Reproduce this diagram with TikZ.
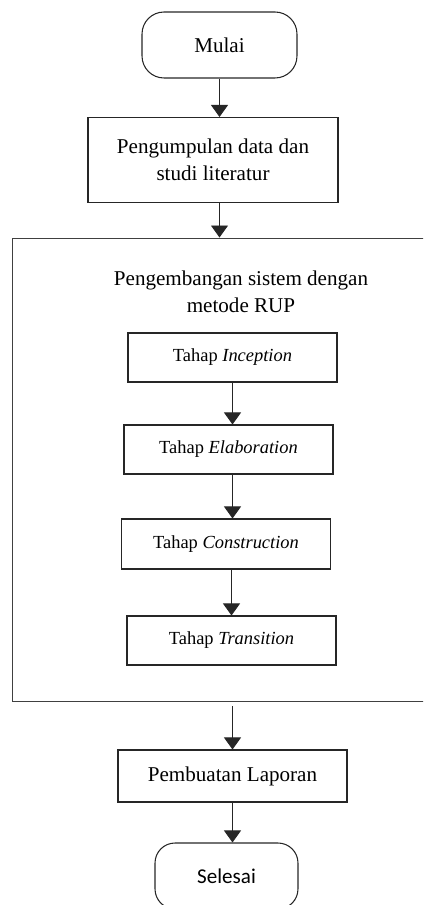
\documentclass[tikz,border=0pt]{standalone}
\usepackage{fontspec}
\setmainfont{Liberation Serif}
\newfontfamily\calibrifont{Carlito}
\usetikzlibrary{shapes,arrows.meta,positioning,calc}

\begin{document}
\begin{tikzpicture}[x=0.02cm,y=-0.02cm,
    line width=0.6pt,
    terminal/.style={draw=black!85,rectangle,rounded corners=0.44cm,minimum width=#1,minimum height=1.32cm,inner sep=0pt},
    box/.style={draw=black!85,rectangle,minimum width=#1,minimum height=1.7cm,inner sep=0pt,align=center,font=\fontsize{12}{15.6}\selectfont},
    tahap/.style={draw=black!85,rectangle,minimum width=4.18cm,minimum height=0.98cm,inner sep=0pt,font=\fontsize{10.5}{12.6}\selectfont},
    flow/.style={draw=black!85,line width=0.5pt,-{Triangle[width=0.34cm,length=0.24cm]}}]
    \useasboundingbox (0,0) rectangle (423,905);
    \clip (0,0) rectangle (423,905);

    % Start
    \node[terminal=3.1cm,font=\fontsize{12}{14}\selectfont] (mulai) at (219.5,45) {Mulai};
    \node[box=5cm] (kumpul) at (213,160) {Pengumpulan data dan\\studi literatur};

    % RUP block
    \node[draw=black!75,rectangle,minimum width=9.16cm,minimum height=9.28cm] (rup) at (241,470) {};
    \node[align=center,font=\fontsize{12}{15.6}\selectfont] (ruptitle) at (241,292) {Pengembangan sistem dengan\\metode RUP};

    \node[tahap] (inception) at (232.5,357.5) {Tahap \textit{Inception}};
    \node[tahap] (elaboration) at (228.5,449.5) {Tahap \textit{Elaboration}};
    \node[tahap,minimum height=1cm] (construction) at (226,544) {Tahap \textit{Construction}};
    \node[tahap] (transition) at (231.5,640.5) {Tahap \textit{Transition}};

    % Finish
    \node[box=4.58cm,minimum height=1.04cm] (laporan) at (232.5,776) {Pembuatan Laporan};
    \node[terminal=2.86cm,rounded corners=0.4cm,font=\calibrifont\fontsize{12}{14}\selectfont] (selesai) at (226.5,876) {Selesai};

    % Arrows
    \draw[flow] (mulai.south) -- (mulai.south |- kumpul.north);
    \draw[flow] (mulai.south |- kumpul.south) -- (mulai.south |- rup.north);
    \draw[flow] (inception.south) -- (inception.south |- elaboration.north);
    \draw[flow] (inception.south |- elaboration.south) -- (inception.south |- construction.north);
    \draw[flow] (transition.north |- construction.south) -- (transition.north);
    \draw[flow,shorten <=0.08cm] (laporan.north |- rup.south) -- (laporan.north);
    \draw[flow] (laporan.south) -- (laporan.south |- selesai.north);
\end{tikzpicture}
\end{document}
